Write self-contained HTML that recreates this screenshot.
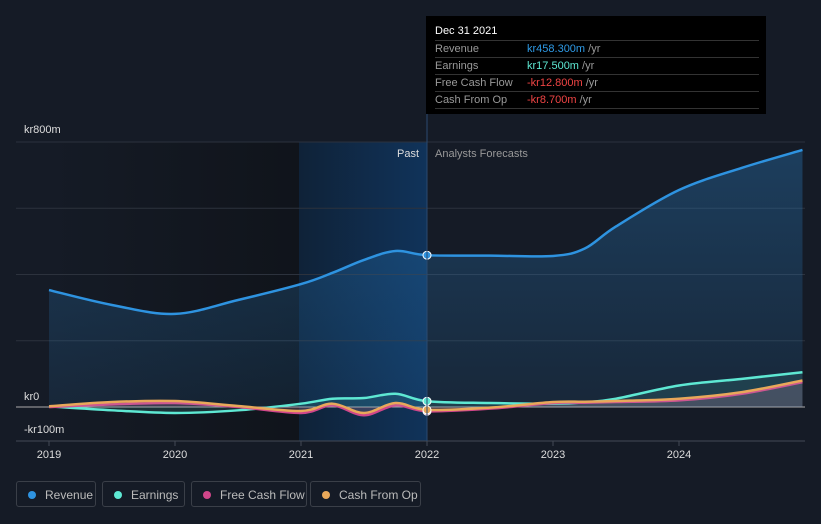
<!DOCTYPE html>
<html><head><meta charset="utf-8"><style>
body{margin:0;background:#151b26;font-family:"Liberation Sans",sans-serif;}
#wrap{position:relative;width:821px;height:524px;overflow:hidden;background:#151b26}
.tt{position:absolute;left:426px;top:16px;width:340px;height:98px;background:#000;color:#ccc;font-size:11px}
.tt .row{position:absolute;left:9px;width:324px;border-top:1px solid #333;height:16px;line-height:17px;color:#999}
.tt .v{position:absolute;left:92px}
.leg{position:absolute;top:481px;height:26px;border:1px solid #3a3f48;border-radius:3px;color:#bbb;font-size:12px;line-height:26px;box-sizing:border-box}
.leg i{display:inline-block;width:8px;height:8px;border-radius:50%;margin:0 9px 0 11px;vertical-align:0}
</style></head><body>
<div id="wrap">
<svg id="svg" width="821" height="524" style="position:absolute;left:0;top:0">
<defs>
<linearGradient id="pastbg" x1="0" x2="1" y1="0" y2="0"><stop offset="0" stop-color="#151b26"/><stop offset="1" stop-color="#10141b"/></linearGradient>
<linearGradient id="hl" x1="0" x2="1"><stop offset="0" stop-color="#0f2238"/><stop offset="1" stop-color="#10335a"/></linearGradient>
<linearGradient id="revfill" x1="0" x2="0" y1="0" y2="1"><stop offset="0" stop-color="#2a7fc4" stop-opacity="0.35"/><stop offset="1" stop-color="#2a7fc4" stop-opacity="0.12"/></linearGradient>
</defs>
<rect x="49" y="142" width="250" height="299" fill="url(#pastbg)"/>
<rect x="299" y="142" width="128" height="299" fill="url(#hl)"/>
<g id="grid"></g>
<g id="marks"></g>
<text x="24" y="133" fill="#ddd" font-size="11">kr800m</text>
<text x="24" y="400" fill="#ddd" font-size="11">kr0</text>
<text x="24" y="433" fill="#ddd" font-size="11">-kr100m</text>
<text x="419" y="157" fill="#ddd" font-size="11" text-anchor="end">Past</text>
<text x="435" y="157" fill="#999" font-size="11">Analysts Forecasts</text>
<g id="xt"></g>
</svg>
<div class="tt">
<div style="position:absolute;left:9px;top:9px;color:#fff;font-size:11px">Dec 31 2021</div>
<div class="row" style="top:24px">Revenue<span class="v"><span style="color:#2e9ae6">kr458.300m</span> /yr</span></div>
<div class="row" style="top:41px">Earnings<span class="v"><span style="color:#5ee8d3">kr17.500m</span> /yr</span></div>
<div class="row" style="top:58px">Free Cash Flow<span class="v"><span style="color:#ef4444">-kr12.800m</span> /yr</span></div>
<div class="row" style="top:75px">Cash From Op<span class="v"><span style="color:#ef4444">-kr8.700m</span> /yr</span></div>
<div class="row" style="top:92px;height:0"></div>
</div>
<div class="leg" style="left:16px;width:80px"><i style="background:#2e93e0"></i>Revenue</div>
<div class="leg" style="left:102px;width:83px"><i style="background:#5ee8d3"></i>Earnings</div>
<div class="leg" style="left:191px;width:116px"><i style="background:#d0468a"></i>Free Cash Flow</div>
<div class="leg" style="left:310px;width:111px"><i style="background:#e8a85a"></i>Cash From Op</div>
</div>
<script>
const years=[2019,2019.5,2020,2020.5,2021,2021.25,2021.5,2021.75,2022,2022.5,2023,2023.25,2023.5,2024,2024.5,2024.98];
const revenue=[353,308,281,323,371,405,444,471,458.3,457,456,478,545,655,722,776];
const earnings=[2,-10,-18,-10,10,25,27,40,17.5,12,10,14,25,65,85,105];
const fcf=[0,8,12,0,-18,5,-25,5,-12.8,-5,12,13,15,20,40,75];
const cfo=[2,15,18,3,-12,10,-18,12,-8.7,-2,15,16,18,25,45,80];
const xTicks=[2019,2020,2021,2022,2023,2024];
const gridVals=[800,600,400,200,0];
const X=y=>49+(y-2019)*126, Y=v=>407-v*0.33125;
const NS="http://www.w3.org/2000/svg";
function mk(t,a,p){const e=document.createElementNS(NS,t);for(const k in a)e.setAttribute(k,a[k]);p.appendChild(e);return e;}
function path(vals){const p=years.map((y,i)=>[X(y),Y(vals[i])]);let d="M"+p[0];for(let i=0;i<p.length-1;i++){const p0=p[i-1]||p[i],p1=p[i],p2=p[i+1],p3=p[i+2]||p2;const c1=[p1[0]+(p2[0]-p0[0])/6,p1[1]+(p2[1]-p0[1])/6],c2=[p2[0]-(p3[0]-p1[0])/6,p2[1]-(p3[1]-p1[1])/6];d+=`C${c1} ${c2} ${p2}`;}return d;}
const grid=document.getElementById('grid'),marks=document.getElementById('marks'),xt=document.getElementById('xt');
gridVals.forEach(v=>{const l=mk('line',{x1:16,x2:805,y1:Y(v),y2:Y(v),stroke:v===0?'#aaa':'#2c323d','stroke-width':1},grid);

});
const ax=mk('line',{x1:16,x2:805,y1:441,y2:441,stroke:'#444a55'},grid);


xTicks.forEach(t=>{const tx=mk('text',{x:X(t),y:458,fill:'#ddd','font-size':11,'text-anchor':'middle'},xt);tx.textContent=t;


mk('line',{x1:X(t),x2:X(t),y1:441,y2:446,stroke:'#444a55'},xt);});
const series=[[revenue,'#2e93e0','url(#revfill)','revenue'],[earnings,'#5ee8d3','rgba(94,232,211,0.12)','earnings'],[fcf,'#d0468a','rgba(208,70,138,0.1)','free-cash-flow'],[cfo,'#e8a85a','rgba(180,180,190,0.15)','cash-from-op']];
series.forEach(([v,c,f,n])=>{const d=path(v);
const a=mk('path',{d:d+`L${X(years[years.length-1])},${Y(0)}L${X(years[0])},${Y(0)}Z`,fill:f},marks);


const l=mk('path',{d,fill:'none',stroke:c,'stroke-width':2.5},marks);


const i=years.indexOf(2022);const dot=mk('circle',{cx:X(2022),cy:Y(v[i]),r:4,fill:c,stroke:'#fff','stroke-width':1},marks);

});
const cl=mk('line',{x1:427,x2:427,y1:114,y2:441,stroke:'#2a4a70'},marks);


</script>
</body></html>
